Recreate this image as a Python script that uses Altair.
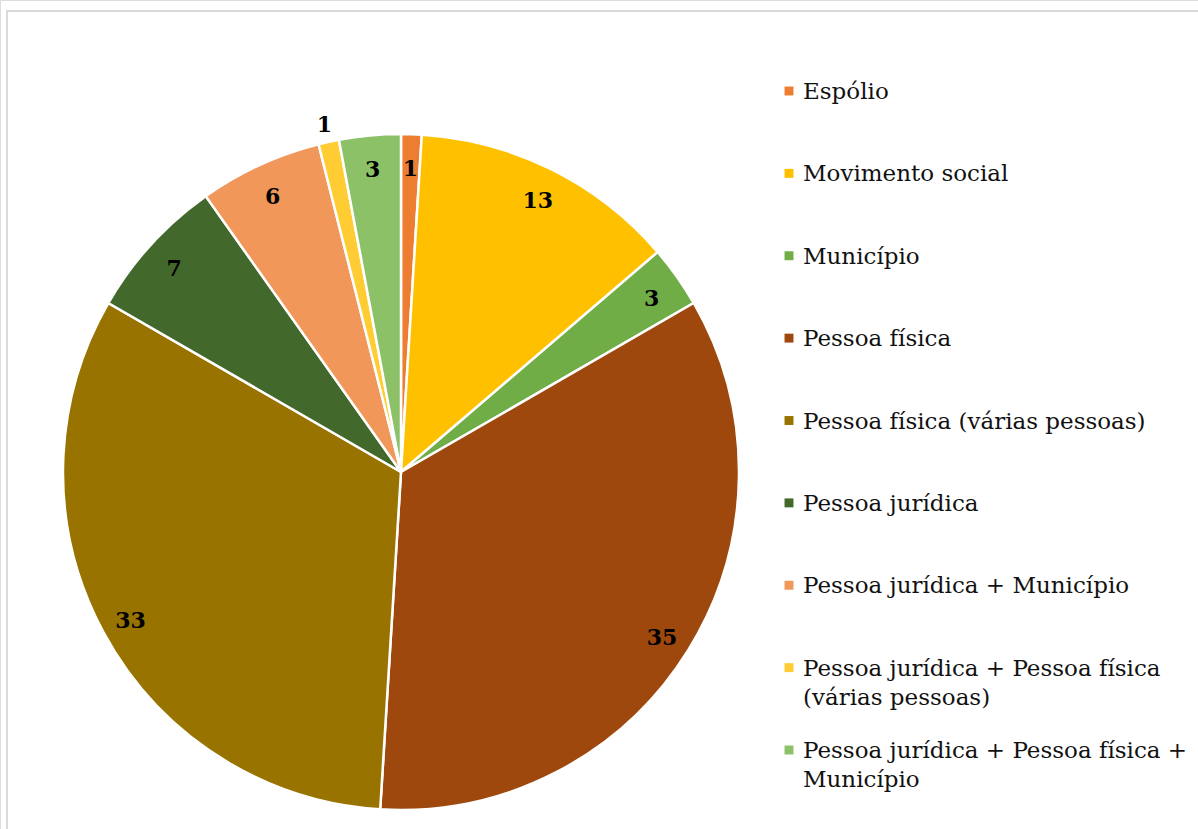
import altair as alt
import pandas as pd

categories = [
    "Espólio",
    "Movimento social",
    "Município",
    "Pessoa física",
    "Pessoa física (várias pessoas)",
    "Pessoa jurídica",
    "Pessoa jurídica + Município",
    "Pessoa jurídica + Pessoa física (várias pessoas)",
    "Pessoa jurídica + Pessoa física + Município",
]
legend_text = [
    "Espólio",
    "Movimento social",
    "Município",
    "Pessoa física",
    "Pessoa física (várias pessoas)",
    "Pessoa jurídica",
    "Pessoa jurídica + Município",
    "Pessoa jurídica + Pessoa física\n(várias pessoas)",
    "Pessoa jurídica + Pessoa física +\nMunicípio",
]
values = [1, 13, 3, 35, 33, 7, 6, 1, 3]
colors = ["#ED7D31", "#FFC000", "#70AD47", "#9E480E", "#997300",
          "#43682B", "#F1975A", "#FFCD33", "#8CC168"]

df = pd.DataFrame({
    "categoria": categories,
    "rotulo": legend_text,
    "valor": values,
    "idx": list(range(len(categories))),
})

FONT = "DejaVu Serif"
CX, CY, R = 401, 472, 338

color_scale = alt.Scale(domain=categories, range=colors)

base = alt.Chart(df)

frame = alt.Chart(pd.DataFrame({"f": [0]})).mark_rect(
    filled=False, stroke="#D9D9D9", strokeWidth=2
).encode(
    x=alt.value(7), x2=alt.value(1400), y=alt.value(11), y2=alt.value(1100)
)

pie = base.mark_arc(radius=R, stroke="white", strokeWidth=2.5).encode(
    theta=alt.Theta("valor:Q", stack=True),
    order=alt.Order("idx:Q", sort="ascending"),
    color=alt.Color("categoria:N", scale=color_scale, legend=None),
    x=alt.value(CX),
    y=alt.value(CY),
)

lab_base = base.transform_stack(
    stack="valor", as_=["v0", "v1"], groupby=[],
    sort=[alt.SortField("idx", order="ascending")]
).transform_calculate(mid="(datum.v0 + datum.v1) / 2")

labels_in = lab_base.transform_filter("datum.idx != 7").mark_text(
    radius=307, font=FONT, fontWeight="bold", fontSize=22, dy=4,
    align="center", baseline="middle", color="black"
).encode(
    theta=alt.Theta("mid:Q", stack=None),
    text=alt.Text("valor:Q"),
    x=alt.value(CX), y=alt.value(CY),
)

labels_out = lab_base.transform_filter("datum.idx == 7").mark_text(
    radius=358, font=FONT, fontWeight="bold", fontSize=22, dy=3,
    align="center", baseline="middle", color="black"
).encode(
    theta=alt.Theta("mid:Q", stack=None),
    text=alt.Text("valor:Q"),
    x=alt.value(CX), y=alt.value(CY),
)

leg_y = alt.Y("categoria:N", sort=categories,
              scale=alt.Scale(domain=categories, range=[91, 750], padding=0),
              axis=None)

leg_sym = base.mark_point(shape="square", filled=True, size=80, opacity=1).encode(
    y=leg_y,
    x=alt.value(789),
    color=alt.Color("categoria:N", scale=color_scale, legend=None),
)

leg_txt = base.mark_text(
    font=FONT, fontSize=23, align="left", baseline="alphabetic",
    dy=8, lineBreak="\n", lineHeight=29, color="#111111"
).encode(
    y=leg_y,
    x=alt.value(803),
    text="rotulo:N",
)

chart = alt.layer(frame, pie, labels_in, labels_out, leg_sym, leg_txt).properties(
    width=1198, height=829, padding=0,
    autosize=alt.AutoSizeParams(type="none"),
).configure_view(stroke=None).configure(background="white")

chart.save("out.html", embed_options={"renderer": "svg", "actions": False})
